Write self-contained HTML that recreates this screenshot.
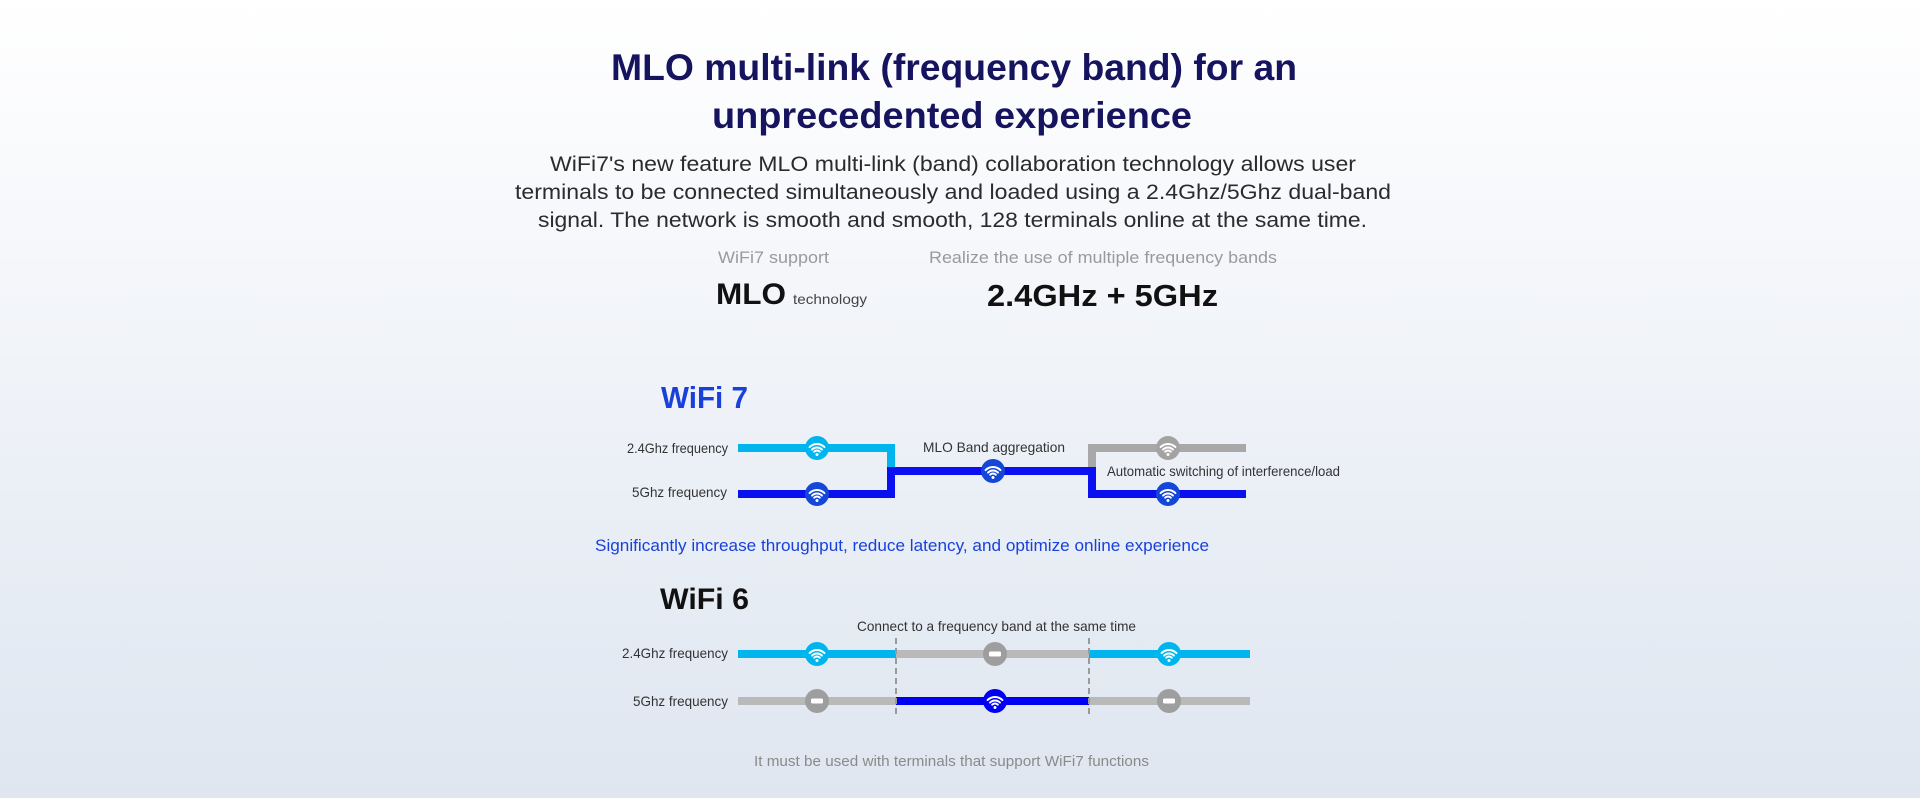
<!DOCTYPE html>
<html><head><meta charset="utf-8"><style>
html,body{margin:0;padding:0;width:1920px;height:798px;overflow:hidden}
body{background:linear-gradient(to bottom,#ffffff 0%,#f4f6fa 35%,#e6ecf4 75%,#dfe6f0 100%)}
svg{display:block}
text{font-family:"Liberation Sans",Arial,sans-serif}
</style></head><body>
<svg width="1920" height="798" viewBox="0 0 1920 798" xmlns="http://www.w3.org/2000/svg">
<defs>
<g id="wf">
<path d="M-2.83 3.67 A4 4 0 0 1 2.83 3.67 M-4.95 1.55 A7 7 0 0 1 4.95 1.55 M-7.42 -0.92 A10.5 10.5 0 0 1 7.42 -0.92" fill="none" stroke="#fff" stroke-width="2" stroke-linecap="round"/>
<circle cx="0" cy="6.5" r="1.5" fill="#fff"/>
</g>
<rect id="mn" x="-6" y="-2.5" width="12" height="5" rx="1.5" fill="#fff"/>
</defs>

<!-- Title -->
<text x="611" y="80" font-size="37" font-weight="bold" fill="#16145f" textLength="686" lengthAdjust="spacingAndGlyphs">MLO multi-link (frequency band) for an</text>
<text x="712" y="128" font-size="37" font-weight="bold" fill="#16145f" textLength="480" lengthAdjust="spacingAndGlyphs">unprecedented experience</text>

<text x="550" y="171" font-size="21" fill="#2b2b2b" textLength="806" lengthAdjust="spacingAndGlyphs">WiFi7's new feature MLO multi-link (band) collaboration technology allows user</text>
<text x="515" y="199" font-size="21" fill="#2b2b2b" textLength="876" lengthAdjust="spacingAndGlyphs">terminals to be connected simultaneously and loaded using a 2.4Ghz/5Ghz dual-band</text>
<text x="538" y="227" font-size="21" fill="#2b2b2b" textLength="829" lengthAdjust="spacingAndGlyphs">signal. The network is smooth and smooth, 128 terminals online at the same time.</text>

<text x="718" y="263" font-size="17" fill="#9a9a9a" textLength="111" lengthAdjust="spacingAndGlyphs">WiFi7 support</text>
<text x="929" y="263" font-size="17" fill="#9a9a9a" textLength="348" lengthAdjust="spacingAndGlyphs">Realize the use of multiple frequency bands</text>
<text x="716" y="304" font-size="30" font-weight="bold" fill="#111" textLength="70" lengthAdjust="spacingAndGlyphs">MLO</text>
<text x="793" y="304" font-size="14" fill="#444" textLength="74" lengthAdjust="spacingAndGlyphs">technology</text>
<text x="987" y="306" font-size="31" font-weight="bold" fill="#111" textLength="231" lengthAdjust="spacingAndGlyphs">2.4GHz + 5GHz</text>

<!-- WiFi 7 -->
<text x="661" y="408" font-size="31" font-weight="bold" fill="#1a40dc" textLength="87" lengthAdjust="spacingAndGlyphs">WiFi 7</text>

<rect x="738" y="444" width="157" height="8" fill="#00b5ee"/>
<rect x="887" y="444" width="8" height="24" fill="#00b5ee"/>
<rect x="738" y="490" width="157" height="8" fill="#0a10f0"/>
<rect x="887" y="467" width="8" height="31" fill="#0a10f0"/>
<rect x="887" y="467" width="209" height="8" fill="#0a10f0"/>
<rect x="1088" y="444" width="8" height="24" fill="#a8a8a8"/>
<rect x="1088" y="444" width="158" height="8" fill="#a8a8a8"/>
<rect x="1088" y="467" width="8" height="31" fill="#0a10f0"/>
<rect x="1088" y="490" width="158" height="8" fill="#0a10f0"/>

<g transform="translate(817,448)"><circle r="12" fill="#00b5ee"/><use href="#wf"/></g>
<g transform="translate(817,494)"><circle r="12" fill="#1446d8"/><use href="#wf"/></g>
<g transform="translate(993,471)"><circle r="12" fill="#1446d8"/><use href="#wf"/></g>
<g transform="translate(1168,448)"><circle r="12" fill="#a3a3a3"/><use href="#wf"/></g>
<g transform="translate(1168,494)"><circle r="12" fill="#1446d8"/><use href="#wf"/></g>

<text x="627" y="453" font-size="14" fill="#333" textLength="101" lengthAdjust="spacingAndGlyphs">2.4Ghz frequency</text>
<text x="632" y="497" font-size="14" fill="#333" textLength="95" lengthAdjust="spacingAndGlyphs">5Ghz frequency</text>
<text x="923" y="452" font-size="14" fill="#333" textLength="142" lengthAdjust="spacingAndGlyphs">MLO Band aggregation</text>
<text x="1107" y="476" font-size="14" fill="#333" textLength="233" lengthAdjust="spacingAndGlyphs">Automatic switching of interference/load</text>

<text x="595" y="551" font-size="17" fill="#1a3fdb" textLength="614" lengthAdjust="spacingAndGlyphs">Significantly increase throughput, reduce latency, and optimize online experience</text>

<!-- WiFi 6 -->
<text x="660" y="609" font-size="30" font-weight="bold" fill="#111" textLength="89" lengthAdjust="spacingAndGlyphs">WiFi 6</text>
<text x="857" y="631" font-size="14" fill="#333" textLength="279" lengthAdjust="spacingAndGlyphs">Connect to a frequency band at the same time</text>

<rect x="738" y="650" width="158" height="8" fill="#00b5ee"/>
<rect x="896" y="650" width="193" height="8" fill="#b9b9b9"/>
<rect x="1089" y="650" width="161" height="8" fill="#00b5ee"/>
<rect x="738" y="697" width="158" height="8" fill="#b9b9b9"/>
<rect x="896" y="697" width="193" height="8" fill="#0000f2"/>
<rect x="1089" y="697" width="161" height="8" fill="#b9b9b9"/>

<line x1="896" y1="638" x2="896" y2="716" stroke="#9a9a9a" stroke-width="2" stroke-dasharray="6 4"/>
<line x1="1089" y1="638" x2="1089" y2="716" stroke="#9a9a9a" stroke-width="2" stroke-dasharray="6 4"/>

<g transform="translate(817,654)"><circle r="12" fill="#00b5ee"/><use href="#wf"/></g>
<g transform="translate(995,654)"><circle r="12" fill="#9e9e9e"/><use href="#mn"/></g>
<g transform="translate(1169,654)"><circle r="12" fill="#00b5ee"/><use href="#wf"/></g>
<g transform="translate(817,701)"><circle r="12" fill="#9e9e9e"/><use href="#mn"/></g>
<g transform="translate(995,701)"><circle r="12" fill="#0000f2"/><use href="#wf"/></g>
<g transform="translate(1169,701)"><circle r="12" fill="#9e9e9e"/><use href="#mn"/></g>

<text x="622" y="658" font-size="14" fill="#333" textLength="106" lengthAdjust="spacingAndGlyphs">2.4Ghz frequency</text>
<text x="633" y="706" font-size="14" fill="#333" textLength="95" lengthAdjust="spacingAndGlyphs">5Ghz frequency</text>

<text x="754" y="766" font-size="15" fill="#8a8a8a" textLength="395" lengthAdjust="spacingAndGlyphs">It must be used with terminals that support WiFi7 functions</text>
</svg>
</body></html>
